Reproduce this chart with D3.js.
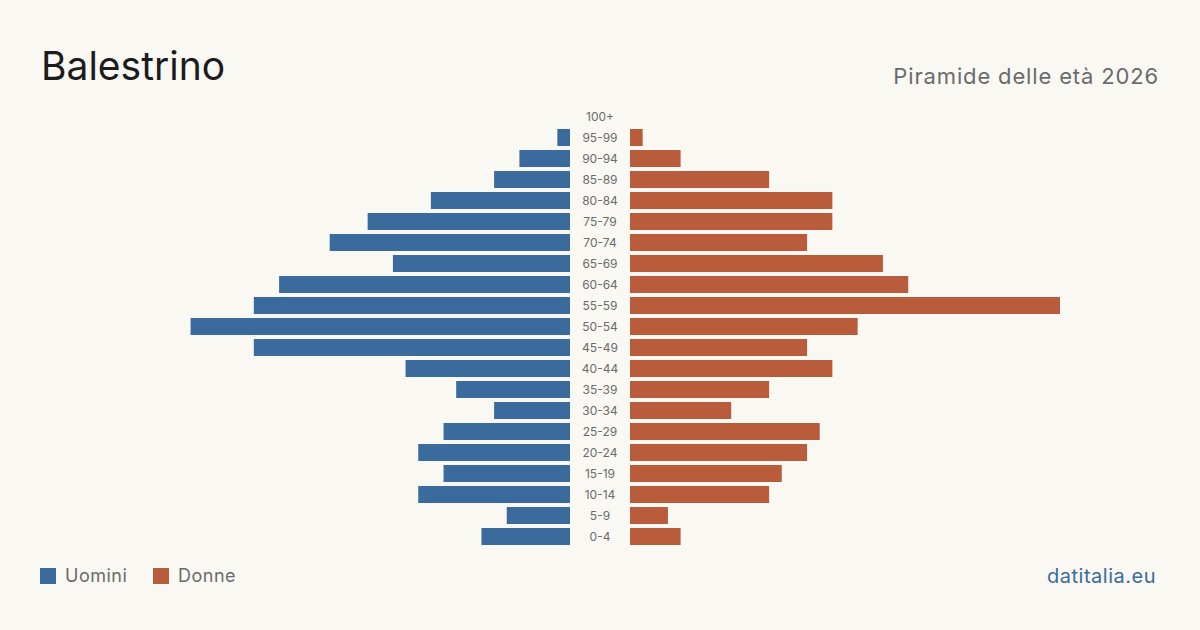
<!DOCTYPE html>
<html>
<head>
<meta charset="utf-8">
<script src="https://cdn.jsdelivr.net/npm/d3@7"></script>
<style>
  html, body { margin: 0; padding: 0; background: #f9f8f3; }
  svg { display: block; font-family: Inter, 'Noto Sans', sans-serif; }
</style>
</head>
<body>
<svg id="chart" width="1200" height="630"></svg>
<script>
// age groups, top to bottom
const ageGroups = ['100+', '95-99', '90-94', '85-89', '80-84', '75-79', '70-74', '65-69', '60-64', '55-59',
  '50-54', '45-49', '40-44', '35-39', '30-34', '25-29', '20-24', '15-19', '10-14', '5-9', '0-4'];
const men   = [0, 1, 4, 6, 11, 16, 19, 14, 23, 25, 30, 25, 13, 9, 6, 10, 12, 10, 12, 5, 7];
const women = [0, 1, 4, 11, 16, 16, 14, 20, 22, 34, 18, 14, 16, 11, 8, 15, 14, 12, 11, 3, 4];
const legendLabels = ['Uomini', 'Donne'];
const colors = ['#3a6b9c', '#b95c3c'];

const svg = d3.select('#chart');
const W = 1200;

svg.append('rect').attr('width', W).attr('height', 630).attr('fill', '#f9f8f3');

// titles
svg.append('text')
  .attr('x', 41).attr('y', 80)
  .attr('font-size', 39).attr('fill', '#1c1c1c')
  .text('Balestrino');
svg.append('text')
  .attr('x', 1159).attr('y', 84)
  .attr('text-anchor', 'end')
  .attr('font-size', 22).attr('letter-spacing', 0.85).attr('fill', '#6b6b6b')
  .text('Piramide delle età 2026');

// scales
const y = d3.scaleBand()
  .domain(ageGroups)
  .range([106, 547])
  .paddingInner(0.19)
  .paddingOuter(0.095);

const maxVal = d3.max(men.concat(women));
const xLeft = d3.scaleLinear().domain([0, maxVal]).range([570, 570 - 430]);
const xRight = d3.scaleLinear().domain([0, maxVal]).range([630, 630 + 430]);

// bars
svg.append('g').selectAll('rect')
  .data(ageGroups)
  .enter().append('rect')
  .attr('x', (d, i) => xLeft(men[i]))
  .attr('y', d => y(d))
  .attr('width', (d, i) => xLeft(0) - xLeft(men[i]))
  .attr('height', y.bandwidth())
  .attr('fill', colors[0]);

svg.append('g').selectAll('rect')
  .data(ageGroups)
  .enter().append('rect')
  .attr('x', xRight(0))
  .attr('y', d => y(d))
  .attr('width', (d, i) => xRight(women[i]) - xRight(0))
  .attr('height', y.bandwidth())
  .attr('fill', colors[1]);

// age labels
svg.append('g').selectAll('text')
  .data(ageGroups)
  .enter().append('text')
  .attr('x', 600)
  .attr('y', d => y(d) + y.bandwidth() / 2)
  .attr('dy', '0.35em')
  .attr('text-anchor', 'middle')
  .attr('font-size', 12).attr('fill', '#6b6b6b')
  .text(d => d);

// legend
const legendX = [40, 153];
const legend = svg.append('g').selectAll('g')
  .data(legendLabels)
  .enter().append('g')
  .attr('transform', (d, i) => 'translate(' + legendX[i] + ',568)');
legend.append('rect')
  .attr('width', 16).attr('height', 16)
  .attr('fill', (d, i) => colors[i]);
legend.append('text')
  .attr('x', 25).attr('y', 8).attr('dy', '0.35em')
  .attr('font-size', 18).attr('letter-spacing', 0.5).attr('fill', '#6b6b6b')
  .text(d => d);

svg.append('text')
  .attr('x', 1156).attr('y', 583)
  .attr('text-anchor', 'end')
  .attr('font-size', 20).attr('letter-spacing', 0.5).attr('fill', '#3a6b9c')
  .text('datitalia.eu');
</script>
</body>
</html>
